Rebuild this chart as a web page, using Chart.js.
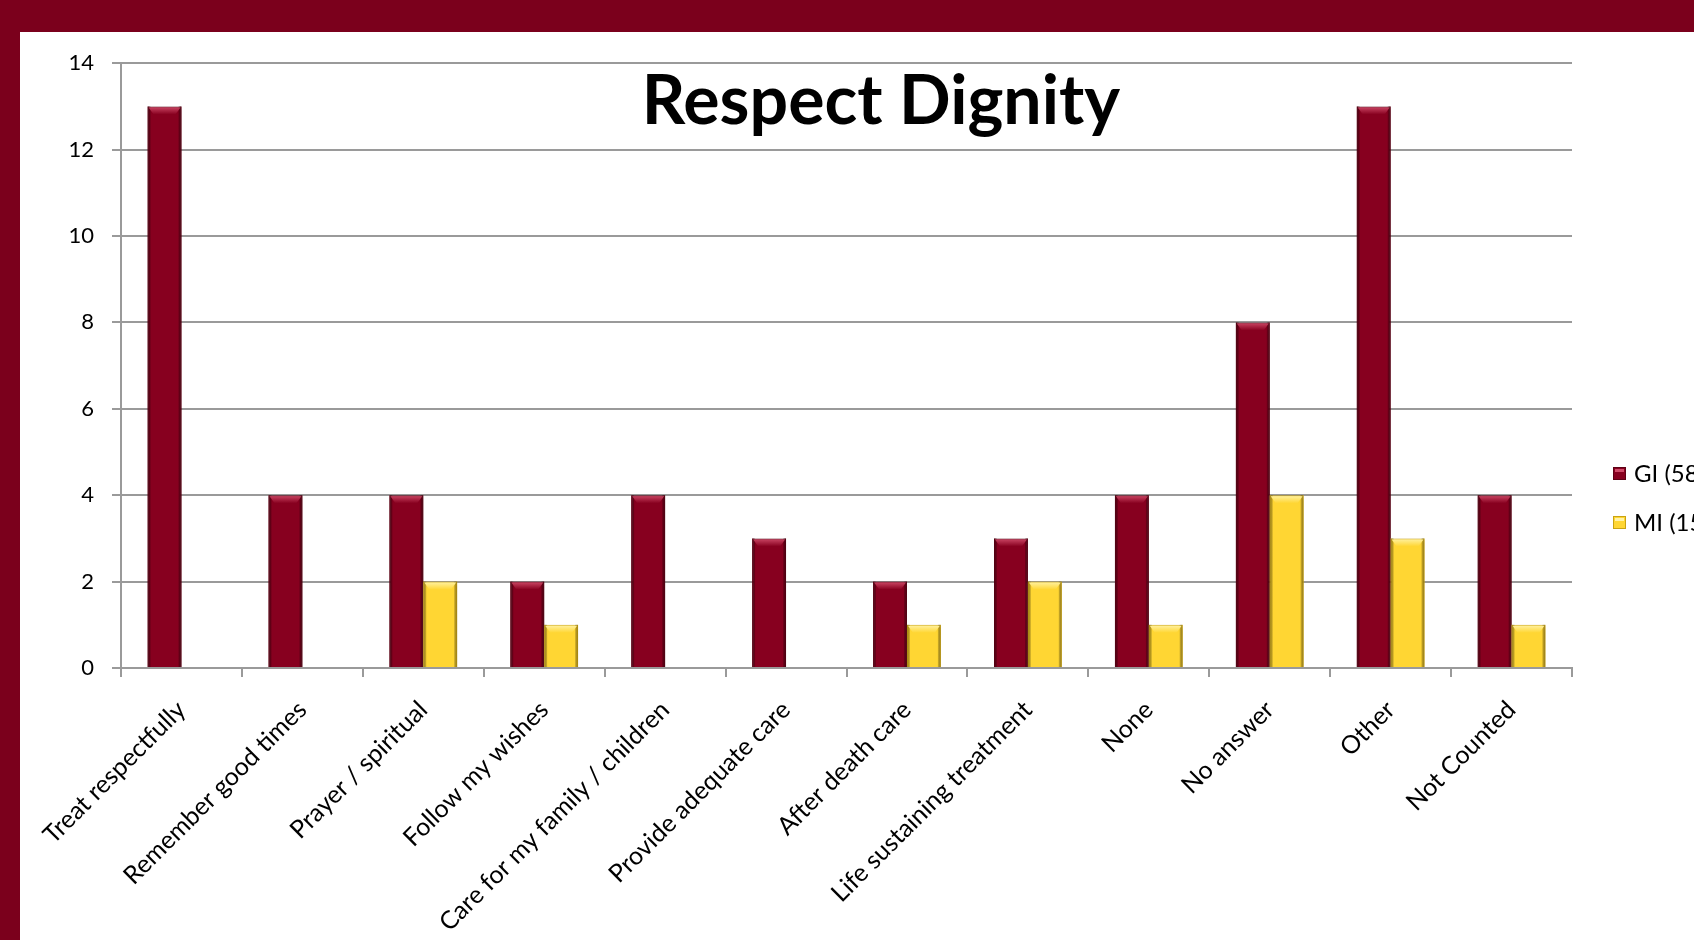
<!DOCTYPE html>
<html>
<head>
<meta charset="utf-8">
<title>Respect Dignity</title>
<script src="https://cdn.jsdelivr.net/npm/chart.js@4.4.1/dist/chart.umd.min.js"></script>
<style>
  html, body { margin: 0; padding: 0; overflow: hidden; }
  body { background: #7b001c; width: 1694px; height: 940px; position: relative; }
  #panel { position: absolute; left: 20px; top: 32px; width: 1674px; height: 908px; background: #fff; overflow: hidden; }
  #graph { position: absolute; left: 0; top: 0; }
</style>
</head>
<body>
<div id="panel">
  <canvas id="graph" width="1720" height="908"></canvas>
</div>
<script>
// Answers per category, two groups
const categories = [
    'Treat respectfully', 'Remember good times', 'Prayer / spiritual', 'Follow my wishes',
    'Care for my family / children', 'Provide adequate care', 'After death care',
    'Life sustaining treatment', 'None', 'No answer', 'Other', 'Not Counted'
];
const giValues = [13, 4, 4, 2, 4, 3, 2, 3, 4, 8, 13, 4];
const miValues = [0, 0, 2, 1, 0, 0, 1, 2, 1, 4, 3, 1];
const seriesNames = ['GI (58)', 'MI (15)'];
const yTicks = [0, 2, 4, 6, 8, 10, 12, 14];

const FONT = 'Lato, "Open Sans", sans-serif';
const GRID = '#9a9a9a';

// colours: body, light top cap, dark edge
const shades = [
    { fill: '#87001f', cap: '#cf4a68', edge: '#5e0014' },
    { fill: '#ffd633', cap: '#fff3a8', edge: '#c9a312' }
];

// soft shadow under the bars, then a bevelled top and darker sides
const bevelBars = {
    id: 'bevelBars',
    beforeDatasetsDraw(chart) {
        const ctx = chart.ctx;
        ctx.save();
        ctx.shadowColor = 'rgba(0,0,0,0.28)';
        ctx.shadowBlur = 4;
        ctx.shadowOffsetX = 2;
        ctx.shadowOffsetY = 2;
    },
    afterDatasetsDraw(chart) {
        const ctx = chart.ctx;
        ctx.restore();
        chart.data.datasets.forEach((ds, i) => {
            const meta = chart.getDatasetMeta(i);
            const s = shades[i];
            meta.data.forEach(bar => {
                const h = bar.base - bar.y;
                if (h <= 0) return;
                const l = bar.x - bar.width / 2, r = bar.x + bar.width / 2;
                const cap = Math.min(8, h / 2);
                // side edges
                let g = ctx.createLinearGradient(l, 0, r, 0);
                g.addColorStop(0, s.edge);
                g.addColorStop(0.1, 'rgba(0,0,0,0)');
                g.addColorStop(0.9, 'rgba(0,0,0,0)');
                g.addColorStop(1, s.edge);
                ctx.fillStyle = g;
                ctx.fillRect(l, bar.y, r - l, h);
                // top cap
                g = ctx.createLinearGradient(0, bar.y, 0, bar.y + cap);
                g.addColorStop(0, s.cap);
                g.addColorStop(1, s.fill);
                ctx.fillStyle = g;
                ctx.beginPath();
                ctx.moveTo(l + 1, bar.y + 1);
                ctx.lineTo(r - 1, bar.y + 1);
                ctx.lineTo(r - 6, bar.y + cap);
                ctx.lineTo(l + 6, bar.y + cap);
                ctx.closePath();
                ctx.fill();
            });
        });
    }
};

// title over the plot and a legend at the right edge
const decorations = {
    id: 'decorations',
    afterDraw(chart) {
        const ctx = chart.ctx;
        ctx.save();
        ctx.fillStyle = '#000';
        ctx.font = 'bold 68px ' + FONT;
        ctx.textAlign = 'center';
        ctx.textBaseline = 'middle';
        ctx.fillText('Respect Dignity', 861, 70);

        ctx.font = '24px ' + FONT;
        ctx.textAlign = 'left';
        chart.data.datasets.forEach((ds, i) => {
            const y = 441 + i * 49;
            const s = shades[i];
            ctx.fillStyle = s.fill;
            ctx.fillRect(1593, y - 6, 13, 13);
            ctx.strokeStyle = s.edge;
            ctx.lineWidth = 1;
            ctx.strokeRect(1593.5, y - 5.5, 12, 12);
            ctx.fillStyle = s.cap;
            ctx.fillRect(1595, y - 4, 9, 3);
            ctx.fillStyle = '#000';
            ctx.fillText(ds.label, 1614, y + 1);
        });
        ctx.restore();
    }
};

const ctx = document.getElementById('graph').getContext('2d');
window.chart = new Chart(ctx, {
    type: 'bar',
    data: {
        labels: categories,
        datasets: [
            {
                label: seriesNames[0],
                data: giValues,
                backgroundColor: shades[0].fill,
                borderColor: shades[0].edge,
                borderWidth: c => (c.raw ? 1 : 0)
            },
            {
                label: seriesNames[1],
                data: miValues,
                backgroundColor: shades[1].fill,
                borderColor: shades[1].edge,
                borderWidth: c => (c.raw ? 1 : 0)
            }
        ]
    },
    options: {
        responsive: false,
        animation: false,
        layout: { padding: { top: 30, right: 168, left: 0, bottom: 0 } },
        datasets: { bar: { categoryPercentage: 0.56, barPercentage: 1 } },
        plugins: {
            legend: { display: false },
            tooltip: { enabled: false }
        },
        scales: {
            x: {
                grid: { drawOnChartArea: false, drawTicks: true, tickLength: 9, color: GRID, lineWidth: 2 },
                border: { color: GRID, width: 2 },
                ticks: {
                    color: '#000',
                    font: { family: FONT, size: 25 },
                    minRotation: 45,
                    maxRotation: 45,
                    autoSkip: false,
                    padding: 18
                },
                afterFit(scale) { scale.height = 272; }
            },
            y: {
                min: 0,
                max: 14,
                afterBuildTicks(scale) { scale.ticks = yTicks.map(v => ({ value: v })); },
                grid: { color: GRID, lineWidth: 2, tickLength: 9 },
                border: { color: GRID, width: 2 },
                ticks: {
                    color: '#000',
                    font: { family: FONT, size: 22 },
                    padding: 18
                },
                afterFit(scale) { scale.width = 101; }
            }
        }
    },
    plugins: [bevelBars, decorations]
});
</script>
</body>
</html>
